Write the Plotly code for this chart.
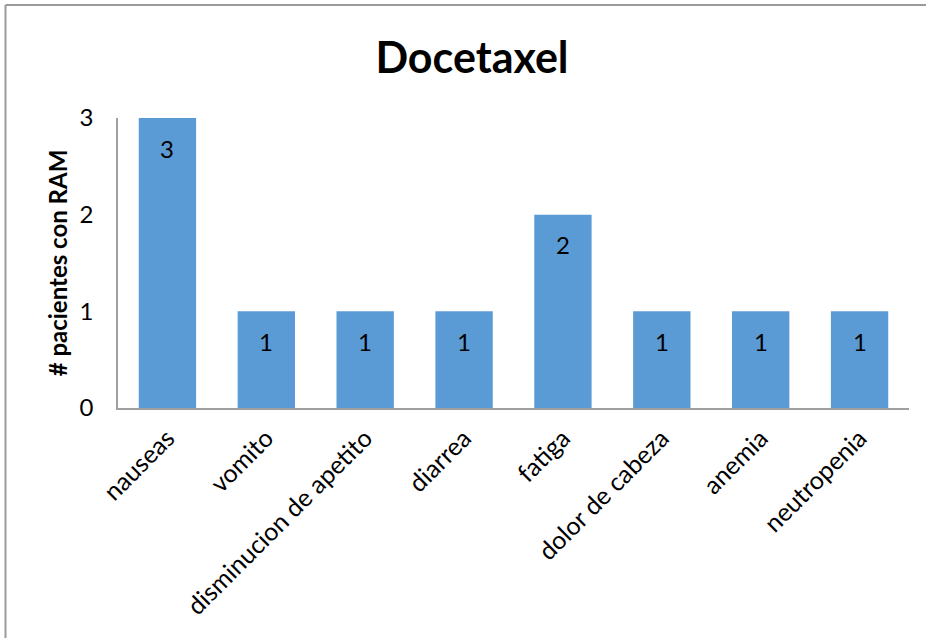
import plotly.graph_objects as go

categories = ["nauseas", "vomito", "disminucion de apetito", "diarrea",
              "fatiga", "dolor de cabeza", "anemia", "neutropenia"]
values = [3, 1, 1, 1, 2, 1, 1, 1]
y_ticks = [0, 1, 2, 3]

FONT = "Lato, 'Open Sans', sans-serif"
L, R, T, B = 118, 17, 118, 230
W, H = 926, 638
pw, ph = W - L - R, H - T - B

fig = go.Figure(go.Bar(
    x=categories, y=values,
    marker=dict(color="#5B9BD5", line=dict(width=0)),
    hoverinfo="skip",
))

for c, v in zip(categories, values):
    fig.add_annotation(x=c, y=v, text=str(v), showarrow=False, yshift=-30,
                       font=dict(family=FONT, size=24, color="black"))

# outer chart border: top and left edges only (rest lies beyond the canvas)
fig.add_shape(type="line", xref="paper", yref="paper",
              x0=(5.5 - L) / pw, x1=(W + 10 - L) / pw,
              y0=1 + (T - 5) / ph, y1=1 + (T - 5) / ph,
              line=dict(color="#9a9a9a", width=2), layer="below")
fig.add_shape(type="line", xref="paper", yref="paper",
              x0=(5.5 - L) / pw, x1=(5.5 - L) / pw,
              y0=-(B + 20) / ph, y1=1 + (T - 5) / ph,
              line=dict(color="#9a9a9a", width=2), layer="below")

fig.update_layout(
    width=W, height=H,
    margin=dict(l=L, r=R, t=T, b=B),
    paper_bgcolor="white", plot_bgcolor="white",
    bargap=0.42,
    showlegend=False,
    title=dict(text="<b>Docetaxel</b>", x=472 / W, xanchor="center",
               y=1 - 58 / H, yanchor="middle", yref="container",
               font=dict(family=FONT, size=43, color="black")),
    font=dict(family=FONT, size=24, color="black"),
)
fig.update_xaxes(showline=True, linecolor="#a0a0a0", linewidth=1.5,
                 tickangle=-45, ticks="", showgrid=False, automargin=False,
                 ticklabelstandoff=4,
                 tickfont=dict(family=FONT, size=25, color="black"))
fig.update_yaxes(range=[0, 3], tickvals=y_ticks, showline=True,
                 linecolor="#a0a0a0", linewidth=1.5, showgrid=False,
                 zeroline=False, ticks="", ticklabelstandoff=18, automargin=False,
                 tickfont=dict(family=FONT, size=24, color="black"),
                 title=dict(text="<b># pacientes con RAM</b>", standoff=5,
                            font=dict(family=FONT, size=24, color="black")))

fig.write_html("out.html", config={"displayModeBar": False},
               post_script="document.body.style.margin='0';document.body.style.overflow='hidden';")
